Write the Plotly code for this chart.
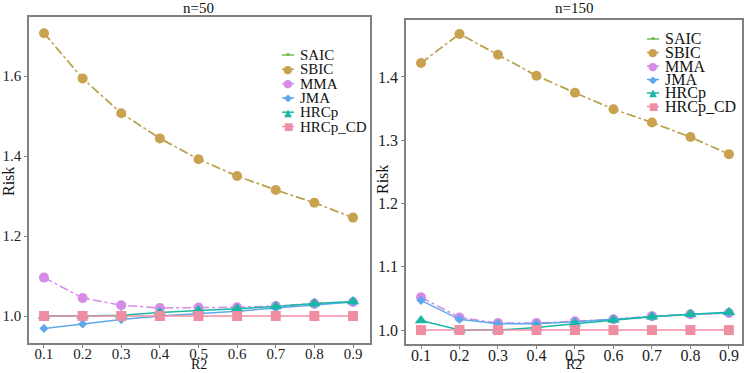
import plotly.graph_objects as go

r2 = [0.1, 0.2, 0.3, 0.4, 0.5, 0.6, 0.7, 0.8, 0.9]
x_ticks = [0.1, 0.2, 0.3, 0.4, 0.5, 0.6, 0.7, 0.8, 0.9]

# n = 50
saic_50 = [1.707, 1.594, 1.507, 1.444, 1.392, 1.350, 1.315, 1.283, 1.246]
sbic_50 = [1.707, 1.594, 1.507, 1.444, 1.392, 1.350, 1.315, 1.283, 1.246]
mma_50 = [1.096, 1.045, 1.027, 1.020, 1.021, 1.022, 1.025, 1.031, 1.035]
jma_50 = [0.969, 0.980, 0.991, 1.000, 1.006, 1.012, 1.020, 1.028, 1.035]
hrcp_50 = [1.000, 1.000, 1.002, 1.009, 1.014, 1.018, 1.024, 1.031, 1.036]
hrcpcd_50 = [1.0, 1.0, 1.0, 1.0, 1.0, 1.0, 1.0, 1.0, 1.0]

# n = 150
saic_150 = [1.422, 1.468, 1.435, 1.402, 1.375, 1.349, 1.328, 1.305, 1.278]
sbic_150 = [1.422, 1.468, 1.435, 1.402, 1.375, 1.349, 1.328, 1.305, 1.278]
mma_150 = [1.052, 1.020, 1.011, 1.011, 1.014, 1.017, 1.022, 1.025, 1.027]
jma_150 = [1.047, 1.017, 1.010, 1.010, 1.013, 1.017, 1.021, 1.025, 1.027]
hrcp_150 = [1.015, 1.000, 1.000, 1.004, 1.010, 1.016, 1.021, 1.025, 1.028]
hrcpcd_150 = [1.0, 1.0, 1.0, 1.0, 1.0, 1.0, 1.0, 1.0, 1.0]

names = ["SAIC", "SBIC", "MMA", "JMA", "HRCp", "HRCp_CD"]
colors = ["#72b84e", "#c9a250", "#d58ce6", "#5ea8ea", "#18b8a4", "#ef8ea3"]
dashes = ["dash", "dashdot", "dashdot", "solid", "solid", "solid"]
symbols = ["circle", "circle", "circle", "diamond", "triangle-up", "square"]
sizes = [5, 10, 10, 7, 11, 10]
legend_glyphs = ["•", "●", "●", "◆", "▲", "■"]
glyph_sizes = [10, 11, 11, 10, 10, 10]

W, H = 745, 373
FONT = "Liberation Serif, Times New Roman, serif"
fig = go.Figure()

panels = [
    ([saic_50, sbic_50, mma_50, jma_50, hrcp_50, hrcpcd_50], "x", "y"),
    ([saic_150, sbic_150, mma_150, jma_150, hrcp_150, hrcpcd_150], "x2", "y2"),
]
for series, xa, ya in panels:
    for i, ys in enumerate(series):
        fig.add_trace(go.Scatter(
            x=r2, y=ys, name=names[i], mode="lines+markers",
            line=dict(color=colors[i], width=1.5, dash=dashes[i]),
            marker=dict(color=colors[i], symbol=symbols[i], size=sizes[i]),
            xaxis=xa, yaxis=ya, showlegend=False,
        ))


def ax_common(fs, standoff=0):
    return dict(showline=True, mirror=True, linecolor="#808080", linewidth=1.5,
                ticks="outside", ticklen=3, tickcolor="#808080", showgrid=False,
                zeroline=False, ticklabelstandoff=standoff,
                tickfont=dict(family=FONT, size=fs, color="#222"))


def px_x(p):
    return p / W


def px_y(p):
    return 1 - p / H


fig.update_layout(
    width=W, height=H, margin=dict(l=0, r=0, t=0, b=0),
    paper_bgcolor="white", plot_bgcolor="white",
    font=dict(family=FONT, size=15, color="#222"),
    showlegend=False,
    xaxis=dict(domain=[px_x(29), px_x(370)], range=[0.0612, 0.944],
               tickvals=x_ticks, ticktext=[f"{v:.1f}" for v in x_ticks], anchor="y", **ax_common(15, -7)),
    yaxis=dict(domain=[px_y(343), px_y(17)], range=[0.9325, 1.7475],
               tickvals=[1.0, 1.2, 1.4, 1.6], ticktext=["1.0", "1.2", "1.4", "1.6"], anchor="x", **ax_common(15)),
    xaxis2=dict(domain=[px_x(406), px_x(742)], range=[0.061, 0.934],
                tickvals=x_ticks, ticktext=[f"{v:.1f}" for v in x_ticks], anchor="y2", **ax_common(16, -7)),
    yaxis2=dict(domain=[px_y(344), px_y(20)], range=[0.978, 1.49],
                tickvals=[1.0, 1.1, 1.2, 1.3, 1.4], ticktext=["1.0", "1.1", "1.2", "1.3", "1.4"], anchor="x2", **ax_common(16)),
)

# titles and axis labels
ann = [
    dict(text="n=50", x=px_x(198), y=px_y(8), size=15),
    dict(text="n=150", x=px_x(574), y=px_y(8), size=15),
    dict(text="R2", x=px_x(199), y=px_y(364), size=14),
    dict(text="R2", x=px_x(574), y=px_y(364), size=14),
    dict(text="Risk", x=px_x(8), y=px_y(182), size=16, textangle=-90),
    dict(text="Risk", x=px_x(382), y=px_y(180), size=16, textangle=-90),
]
for a in ann:
    size = a.pop("size")
    fig.add_annotation(xref="paper", yref="paper", xanchor="center", yanchor="middle",
                       showarrow=False, font=dict(family=FONT, size=size, color="#111"), **a)

# legends (drawn as text entries inside each panel)
legend_specs = [
    dict(mx=288, tx=298, y0=55, dy=14.3, fs=15),
    dict(mx=653, tx=663, y0=39, dy=13.5, fs=16),
]
for spec in legend_specs:
    for i, name in enumerate(names):
        yy = spec["y0"] + i * spec["dy"]
        fig.add_shape(type="line", xref="paper", yref="paper",
                      x0=px_x(spec["mx"] - 6), x1=px_x(spec["mx"] + 6), y0=px_y(yy), y1=px_y(yy),
                      line=dict(color=colors[i], width=1.5))
        fig.add_annotation(xref="paper", yref="paper", x=px_x(spec["mx"]), y=px_y(yy),
                           xanchor="center", yanchor="middle", showarrow=False,
                           text=legend_glyphs[i],
                           font=dict(family="DejaVu Sans", size=glyph_sizes[i], color=colors[i]))
        fig.add_annotation(xref="paper", yref="paper", x=px_x(spec["tx"]), y=px_y(yy),
                           xanchor="left", yanchor="middle", showarrow=False, text=name,
                           font=dict(family=FONT, size=spec["fs"], color="#111"))

fig.write_html("out.html", config={"displayModeBar": False},
               post_script="document.body.style.margin='0';document.body.style.overflow='hidden';")
